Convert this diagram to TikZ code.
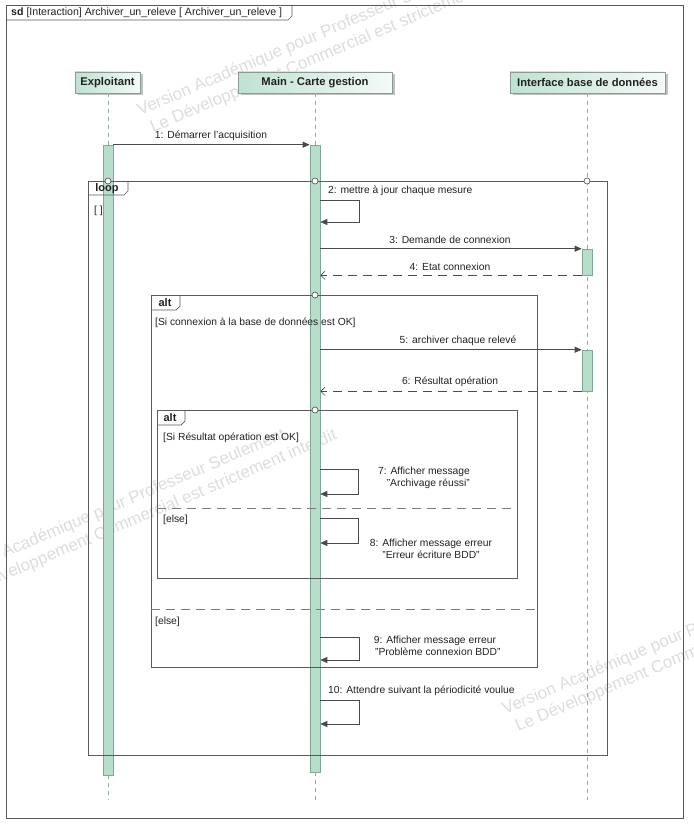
\documentclass[tikz,border=0pt]{standalone}
\usepackage{fontspec}
\setmainfont{Liberation Sans}
\usetikzlibrary{arrows.meta,shadows}
\definecolor{linec}{HTML}{4A4A4A}
\definecolor{frmc}{HTML}{5A5A5A}
\definecolor{txtc}{HTML}{222222}
\definecolor{actf}{HTML}{B7DDCB}
\definecolor{actd}{HTML}{7FA895}
\definecolor{lifec}{HTML}{8FAEA0}
\definecolor{headd}{HTML}{8C9C94}
\definecolor{headl}{HTML}{BFE2D2}
\definecolor{headr}{HTML}{F4FAF7}
\definecolor{wmc}{HTML}{DDDDDD}
\newcommand\selfmsg[3]{\draw[sync] (mA.east |- 0,#1) -- (#3,#1) -- (#3,#2) -- (mA.east |- 0,#2);}
\tikzset{
 lbl/.style={font=\fontsize{10.3}{12}\selectfont, text=txtc, inner sep=0pt},
 lbl2/.style={lbl, align=center, font=\fontsize{10.3}{12}\selectfont},
 head/.style={draw=headd, left color=headl, right color=headr, font=\bfseries\fontsize{11.2}{13}\selectfont, text=txtc,
   drop shadow={shadow xshift=2.5pt, shadow yshift=-2.5pt, fill=gray!60, opacity=0.8}, inner sep=0pt, line width=0.6pt},
 act/.style={draw=actd, fill=actf, minimum width=10pt, inner sep=0pt, line width=0.6pt},
 life/.style={draw=lifec, dash pattern=on 4pt off 4pt, line width=0.6pt},
 frm/.style={draw=frmc, line width=0.7pt},
 sepline/.style={draw=frmc!80, dash pattern=on 9pt off 6pt, line width=0.7pt},
 sync/.style={draw=linec, line width=0.7pt, -{Triangle[length=7pt,width=6pt]}},
 reply/.style={draw=linec, line width=0.7pt, dash pattern=on 9pt off 6pt, -{Straight Barb[length=4pt,width=8pt]}},
 circ/.style={circle, draw=linec, fill=white, minimum size=6pt, inner sep=0pt, line width=0.6pt},
 tabtxt/.style={font=\bfseries\fontsize{11}{12}\selectfont, text=txtc, inner sep=0pt},
 guard/.style={lbl, anchor=west},
 wm/.style={font=\fontsize{17}{18}\selectfont, text=wmc, rotate=23, inner sep=0pt, anchor=base west},
}
\begin{document}
\begin{tikzpicture}[x=1pt,y=-1pt]
\useasboundingbox (0,0) rectangle (693,824);
\fill[white] (0,0) rectangle (693,824);
% watermarks
\begin{scope}
\clip (0,0) rectangle (693,824);
\node[wm] (w1a) at (140,116) {Version Académique pour Professeur Seulement};
\node[wm] (w1b) at (153,133) {Le Développement Commercial est strictement interdit};
\node[wm] (w2a) at (-52,582) {Version Académique pour Professeur Seulement};
\node[wm] (w2b) at (-39,599) {Le Développement Commercial est strictement interdit};
\node[wm] (w3a) at (505,715) {Version Académique pour Professeur Seulement};
\node[wm] (w3b) at (518,732) {Le Développement Commercial est strictement interdit};
\end{scope}
% outer frame
\draw[frm] (6,5) rectangle (683,818);
\draw[frm] (6,20) -- (288,20) -- (292,16) -- (292,5);
\node[anchor=west, font=\fontsize{10.6}{12}\selectfont, text=txtc, inner sep=0pt] (title) at (11,12.5)
  {\textbf{sd} [Interaction] Archiver\_un\_releve [ Archiver\_un\_releve ]};
% heads
\node[head, minimum width=65pt, minimum height=21pt] (hE) at (107.5,82.5) {Exploitant};
\node[head, minimum width=154pt, minimum height=21pt] (hM) at (315,82.5) {Main - Carte gestion};
\node[head, minimum width=155pt, minimum height=21pt] (hI) at (587.5,82.5) {Interface base de données};
% end coordinates of lifelines
\coordinate (eE) at (108,800);
\coordinate (mE) at (315,800);
\coordinate (iE) at (587,800);
% activation bars
\node[act, minimum height=630pt] (eA) at (108,460) {};
\node[act, minimum height=627pt] (mA) at (315,458.5) {};
% lifelines
\draw[life] (hE.south -| eA) -- (eA.north);
\draw[life] (eA.south) -- (eE);
\draw[life] (hM.south -| mA) -- (mA.north);
\draw[life] (mA.south) -- (mE);
\draw[life] (hI.south -| iE) -- (iE);
\node[act, minimum height=26pt] (iA1) at (587,262) {};
\node[act, minimum height=41pt] (iA2) at (587,370.5) {};
% loop frame
\draw[frm] (88,181) rectangle (607,755);
\draw[frm] (88,195) -- (124,195) -- (128,191) -- (128,181);
\node[tabtxt] (tloop) at (107,188.5) {loop};
\node[guard] (g0) at (94,211) {[ ]};
% outer alt
\draw[frm] (151,295) rectangle (537,667);
\draw[frm] (151,310) -- (176,310) -- (180,306) -- (180,295);
\node[tabtxt] (talt1) at (165,302.5) {alt};
\node[guard] (g1) at (155,323) {[Si connexion à la base de données est OK]};
\draw[sepline] (151,609) -- (537,609);
\node[guard] (g3) at (155,622) {[else]};
% inner alt
\draw[frm] (157,410) rectangle (517,578);
\draw[frm] (157,425) -- (181,425) -- (185,421) -- (185,410);
\node[tabtxt] (talt2) at (170,417.5) {alt};
\node[guard] (g2) at (163,438) {[Si Résultat opération est OK]};
\draw[sepline] (157,508) -- (517,508);
\node[guard] (g4) at (163,520) {[else]};
% frame circles
\node[circ] (c1) at (108,181) {};
\node[circ] (c2) at (315,181) {};
\node[circ] (c3) at (587,181) {};
\node[circ] (c4) at (315,295) {};
\node[circ] (c5) at (315,410) {};
% messages
\draw[sync] (eA.north east) -- (mA.north west);
\node[lbl] (l1) at (211,136) {1: Démarrer l'acquisition};
\selfmsg{200}{222}{359}
\node[lbl, anchor=west] (l2) at (328,191) {2: mettre à jour chaque mesure};
\draw[sync] (mA.east |- iA1.north) -- (iA1.north west);
\node[lbl] (l3) at (450,240) {3: Demande de connexion};
\draw[reply] (iA1.south west) -- (mA.east |- iA1.south);
\node[lbl] (l4) at (450,267) {4: Etat connexion};
\draw[sync] (mA.east |- iA2.north) -- (iA2.north west);
\node[lbl] (l5) at (458,341) {5: archiver chaque relevé};
\draw[reply] (iA2.south west) -- (mA.east |- iA2.south);
\node[lbl] (l6) at (450,382) {6: Résultat opération};
\selfmsg{469}{494}{358}
\node[lbl2] (l7) at (424,477.5) {7: Afficher message\\ \ \ \ "Archivage réussi"};
\selfmsg{518}{543}{358}
\node[lbl2] (l8) at (431,548.5) {8: Afficher message erreur\\ "Erreur écriture BDD"};
\selfmsg{637}{660}{359}
\node[lbl2] (l9) at (435,646) {9: Afficher message erreur\\ \ \ "Problème connexion BDD"};
\selfmsg{700}{724}{359}
\node[lbl, anchor=west] (l10) at (328,691) {10: Attendre suivant la périodicité voulue};
\end{tikzpicture}
\end{document}
